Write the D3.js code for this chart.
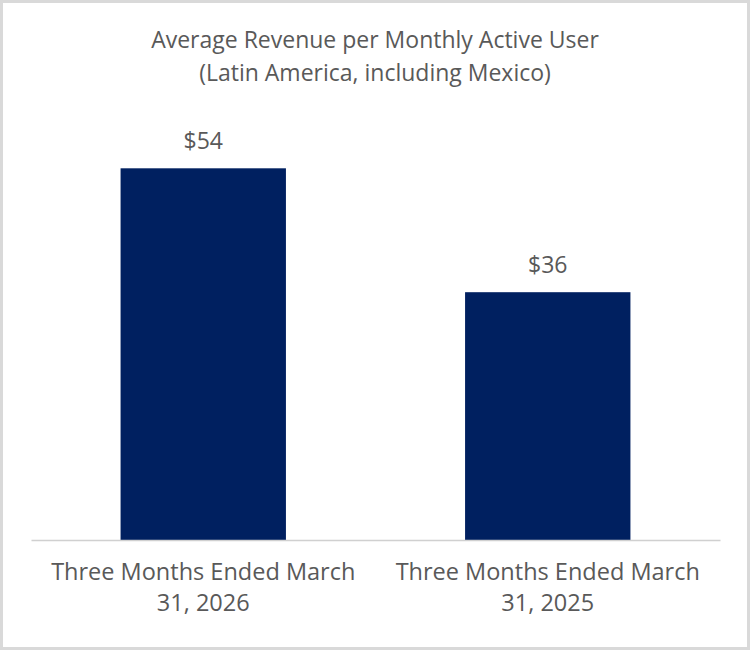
<!DOCTYPE html>
<html>
<head>
<meta charset="utf-8">
<script src="https://cdn.jsdelivr.net/npm/d3@7"></script>
<style>
  body { margin: 0; background: #fff; }
  svg text { font-family: "Open Sans", "Noto Sans", sans-serif; fill: #595959; }
</style>
</head>
<body>
<div id="chart"></div>
<script>
// chart data
const categories = ["Three Months Ended March 31, 2026", "Three Months Ended March 31, 2025"];
const labelLines = [["Three Months Ended March", "31, 2026"], ["Three Months Ended March", "31, 2025"]];
const values = [54, 36];
const titleLines = ["Average Revenue per Monthly Active User", "(Latin America, including Mexico)"];

const W = 750, H = 650;
const margin = { top: 127, right: 30, bottom: 110, left: 31 };
const width = W - margin.left - margin.right,
  height = H - margin.top - margin.bottom;

const svg = d3.select("#chart").append("svg")
  .attr("width", W).attr("height", H);

// outer frame
svg.append("rect")
  .attr("x", 1.5).attr("y", 1.5)
  .attr("width", W - 3).attr("height", H - 3)
  .attr("fill", "#fff").attr("stroke", "#d9d9d9").attr("stroke-width", 3);

// title
svg.append("text")
  .attr("x", W / 2).attr("y", 47.5)
  .attr("text-anchor", "middle")
  .style("font-size", "23px")
  .selectAll("tspan")
  .data(titleLines)
  .join("tspan")
  .attr("x", W / 2)
  .attr("dy", (d, i) => (i === 0 ? 0 : 33))
  .text((d) => d);

const g = svg.append("g").attr("transform", `translate(${margin.left},${margin.top})`);

const x = d3.scaleBand().domain(categories).range([0, width]).paddingInner(0.52).paddingOuter(0.26);
const y = d3.scaleLinear().domain([0, 60]).range([height, 0]);

// bars
g.selectAll("rect.bar")
  .data(values)
  .join("rect")
  .attr("class", "bar")
  .attr("x", (d, i) => x(categories[i]))
  .attr("y", (d) => y(d))
  .attr("width", x.bandwidth())
  .attr("height", (d) => y(0) - y(d))
  .attr("fill", "#002060");

// value labels
g.selectAll("text.val")
  .data(values)
  .join("text")
  .attr("class", "val")
  .attr("x", (d, i) => x(categories[i]) + x.bandwidth() / 2)
  .attr("y", (d) => y(d) - 19)
  .attr("text-anchor", "middle")
  .style("font-size", "23px")
  .text((d) => "$" + d);

// baseline axis
const xAxis = g.append("g")
  .attr("transform", `translate(0,${height})`)
  .call(d3.axisBottom(x).tickSize(0).tickFormat(""));
xAxis.select(".domain").attr("stroke", "#d0d0d0").attr("stroke-width", 1.5);

// category labels
const lbl = g.selectAll("text.cat")
  .data(categories)
  .join("text")
  .attr("class", "cat")
  .attr("text-anchor", "middle")
  .attr("y", height + 40)
  .style("font-size", "23.5px");
lbl.selectAll("tspan")
  .data((d, i) => labelLines[i].map((t) => ({ t, c: d })))
  .join("tspan")
  .attr("x", (d) => x(d.c) + x.bandwidth() / 2)
  .attr("dy", (d, i) => (i === 0 ? 0 : 31))
  .text((d) => d.t);
</script>
</body>
</html>
